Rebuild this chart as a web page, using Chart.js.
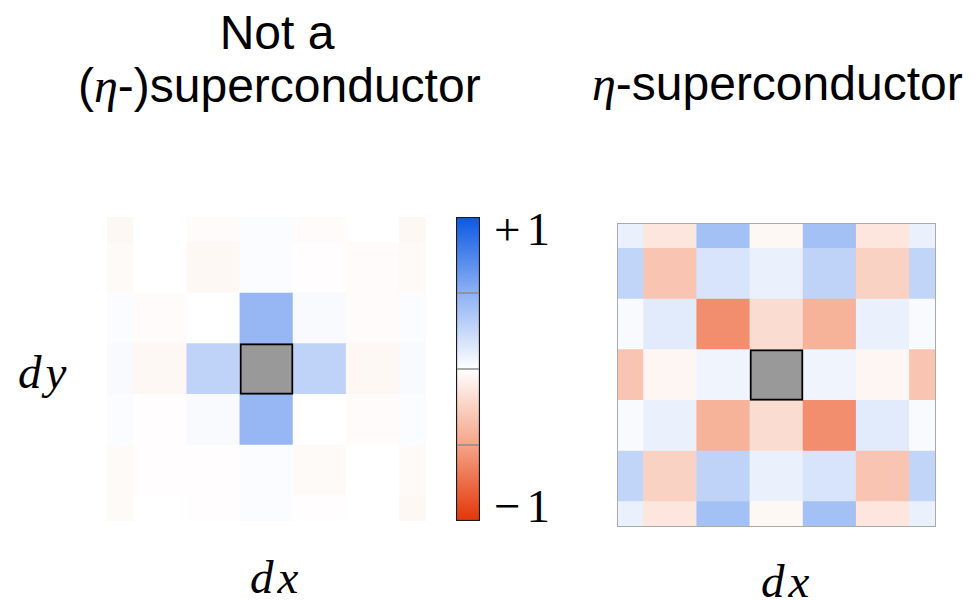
<!DOCTYPE html>
<html>
<head>
<meta charset="utf-8">
<script src="https://cdn.jsdelivr.net/npm/chart.js@4.4.0/dist/chart.umd.min.js"></script>
<style>
body { margin: 0; background: #fff; width: 976px; height: 601px; position: relative; overflow: hidden; }
.t { position: absolute; font-family: "Liberation Sans", Arial, sans-serif; font-size: 48px; line-height: 48px; white-space: nowrap; color: #000; }
.m { font-family: "Liberation Serif", "Times New Roman", serif; font-style: italic; }
.s { font-family: "Liberation Serif", "Times New Roman", serif; font-size: 47px; line-height: 47px; }
canvas { position: absolute; }
</style>
</head>
<body>

<div class="t" style="left:77px;top:9px;width:400px;text-align:center">Not a</div>
<div class="t" style="left:78px;top:62px;width:400px;text-align:center">(<span class="m">η</span>-)superconductor</div>
<div class="t" style="left:592px;top:60px"><span class="m">η</span>-superconductor</div>

<div class="t m" style="left:18px;top:348px;letter-spacing:4px;font-size:47px">dy</div>
<div class="t m" style="left:250px;top:553px;letter-spacing:4px;font-size:47px">dx</div>
<div class="t m" style="left:761px;top:557px;letter-spacing:4px;font-size:47px">dx</div>

<div class="t s" id="tickTop" style="left:494px;top:206px;letter-spacing:6px"></div>
<div class="t s" id="tickBottom" style="left:494px;top:483px;letter-spacing:6px"></div>

<canvas id="plain" width="319" height="304" style="left:107px;top:217px"></canvas>
<canvas id="bar" width="24" height="304" style="left:456px;top:217px"></canvas>
<canvas id="eta" width="319" height="304" style="left:617px;top:223px"></canvas>

<script>
// grid offsets, rows go from dy = +3 (top) to dy = -3 (bottom)
var dxVals = [-3, -2, -1, 0, 1, 2, 3];
var dyVals = [3, 2, 1, 0, -1, -2, -3];

// left panel: not a superconductor (null = reference site)
var plainRows = [
    [-0.04, 0.00, -0.02, 0.02, -0.02, 0.00, -0.04],
    [-0.03, 0.00, -0.04, 0.02, -0.01, -0.02, -0.03],
    [0.02, -0.02, 0.00, 0.46, 0.03, -0.02, 0.02],
    [0.03, -0.04, 0.28, null, 0.28, -0.04, 0.03],
    [0.02, -0.01, 0.03, 0.46, 0.00, -0.02, 0.02],
    [-0.03, -0.01, -0.01, 0.02, -0.03, 0.00, -0.03],
    [-0.03, 0.00, -0.01, 0.02, -0.01, 0.00, -0.04]
];

// right panel: eta-superconductor
var etaRows = [
    [0.09, -0.14, 0.40, -0.04, 0.40, -0.14, 0.09],
    [0.27, -0.32, 0.17, 0.09, 0.28, -0.25, 0.27],
    [0.03, 0.13, -0.60, -0.19, -0.42, 0.09, 0.03],
    [-0.32, -0.05, 0.07, null, 0.07, -0.05, -0.32],
    [0.03, 0.09, -0.42, -0.19, -0.60, 0.13, 0.03],
    [0.27, -0.25, 0.28, 0.09, 0.17, -0.32, 0.27],
    [0.09, -0.14, 0.40, -0.04, 0.40, -0.14, 0.09]
];

var barTicks = ['+1', '\u22121'];
var barDividers = [-0.5, 0, 0.5];

// colour map -1 (red) .. +1 (blue)
var cmap = [
    [-1, [228, 52, 8]],
    [-0.5, [245, 164, 135]],
    [0, [255, 255, 255]],
    [0.5, [141, 177, 243]],
    [1, [11, 88, 228]]
];

function rgb(c) {
    return 'rgb(' + c.map(Math.round).join(',') + ')';
}

function colorFor(v) {
    for (var i = 1; i < cmap.length; i++) {
        if (v <= cmap[i][0]) {
            var a = cmap[i - 1], b = cmap[i];
            var f = (v - a[0]) / (b[0] - a[0]);
            return rgb(a[1].map(function (x, k) { return x + (b[1][k] - x) * f; }));
        }
    }
    return rgb(cmap[cmap.length - 1][1]);
}

function cells(rows) {
    var out = [], centre = [];
    rows.forEach(function (row, i) {
        row.forEach(function (v, j) {
            var c = { x: dxVals[j], y: [dyVals[i] - 0.5, dyVals[i] + 0.5], v: v };
            (v === null ? centre : out).push(c);
        });
    });
    return out.concat(centre); // reference site drawn last
}

function isCentre(c) {
    return c.raw && c.raw.v === null;
}

var frame = {
    id: 'frame',
    afterDatasetsDraw: function (chart) {
        var a = chart.chartArea, g = chart.ctx;
        g.save();
        g.strokeStyle = '#aaaaaa';
        g.lineWidth = 1;
        g.strokeRect(a.left + 0.5, a.top + 0.5, a.right - a.left - 1, a.bottom - a.top - 1);
        g.restore();
    }
};

function heatmap(id, rows, plugins) {
    return new Chart(document.getElementById(id), {
        type: 'bar',
        data: {
            datasets: [{
                data: cells(rows),
                backgroundColor: function (c) {
                    if (!c.raw) return '#fff';
                    return c.raw.v === null ? '#999999' : colorFor(c.raw.v);
                },
                borderColor: '#000',
                borderWidth: function (c) { return isCentre(c) ? 2 : 0; },
                borderSkipped: false,
                categoryPercentage: 1,
                barPercentage: 1,
                clip: 0
            }]
        },
        options: {
            responsive: false,
            animation: false,
            events: [],
            plugins: { legend: { display: false }, tooltip: { enabled: false } },
            scales: {
                x: { type: 'linear', min: -3, max: 3, offset: false, display: false },
                y: { type: 'linear', min: -3, max: 3, offset: false, display: false }
            }
        },
        plugins: plugins
    });
}

heatmap('plain', plainRows, []);
heatmap('eta', etaRows, [frame]);

var dividers = {
    id: 'dividers',
    afterDatasetsDraw: function (chart) {
        var a = chart.chartArea, g = chart.ctx, y = chart.scales.y;
        g.save();
        g.strokeStyle = '#8c8c8c';
        g.lineWidth = 1.5;
        barDividers.forEach(function (v) {
            var p = y.getPixelForValue(v);
            g.beginPath();
            g.moveTo(a.left + 1, p);
            g.lineTo(a.right - 1, p);
            g.stroke();
        });
        g.restore();
    }
};

new Chart(document.getElementById('bar'), {
    type: 'bar',
    data: {
        labels: [''],
        datasets: [{
            data: [[-1, 1]],
            backgroundColor: function (c) {
                var a = c.chart.chartArea;
                if (!a) return null;
                var g = c.chart.ctx.createLinearGradient(0, a.bottom, 0, a.top);
                cmap.forEach(function (s) { g.addColorStop((s[0] + 1) / 2, rgb(s[1])); });
                return g;
            },
            borderColor: '#1a1a1a',
            borderWidth: 1.5,
            borderSkipped: false,
            categoryPercentage: 1,
            barPercentage: 1
        }]
    },
    options: {
        responsive: false,
        animation: false,
        events: [],
        plugins: { legend: { display: false }, tooltip: { enabled: false } },
        scales: {
            x: { display: false },
            y: { min: -1, max: 1, display: false }
        }
    },
    plugins: [dividers]
});

document.getElementById('tickTop').textContent = barTicks[0];
document.getElementById('tickBottom').textContent = barTicks[1];
</script>
</body>
</html>
